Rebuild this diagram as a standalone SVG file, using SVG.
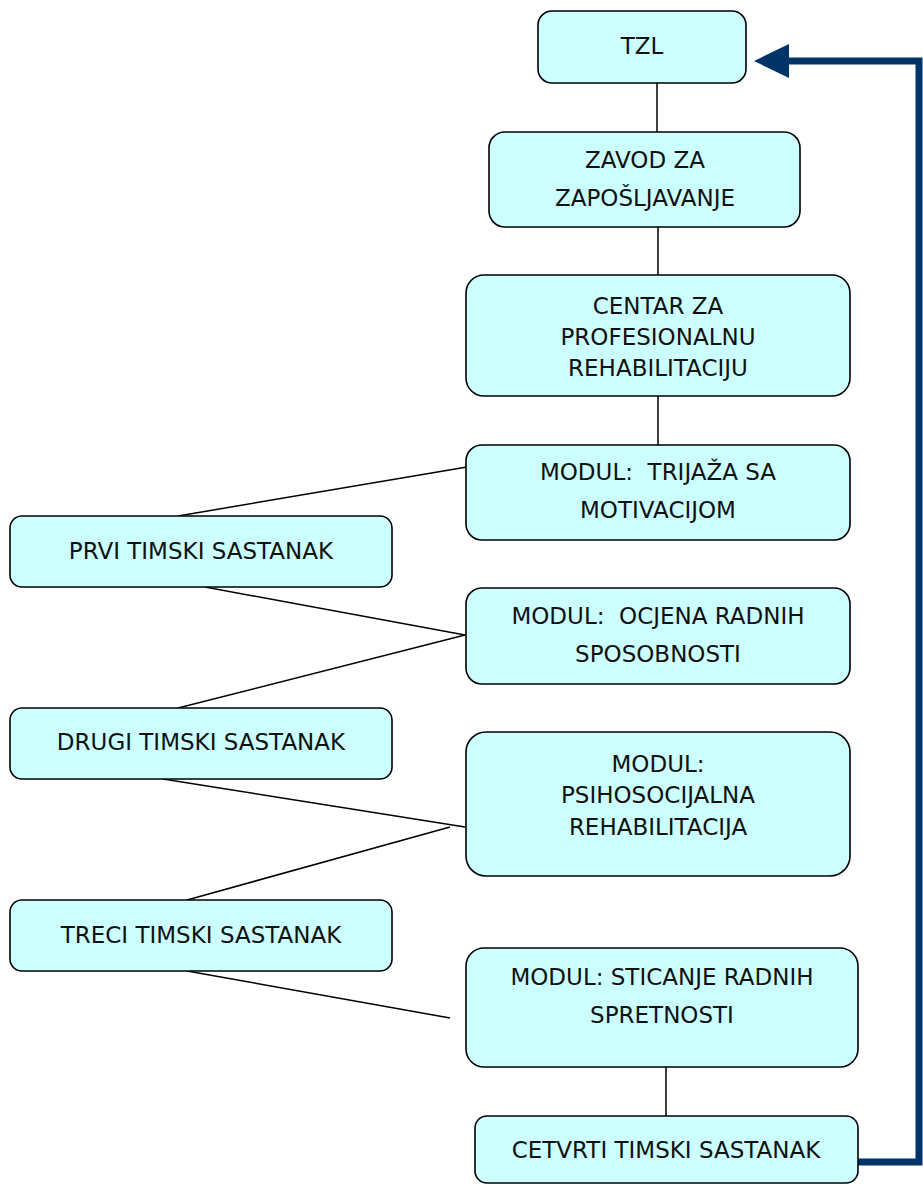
<svg xmlns="http://www.w3.org/2000/svg" width="923" height="1184" viewBox="0 0 923 1184">
  <style>
    .box { fill: #CCFFFF; stroke: #000; stroke-width: 1.6; }
    .lbl { font-family: "DejaVu Sans", "Liberation Sans", sans-serif; font-size: 23px; fill: #111; text-anchor: middle; white-space: pre; }
    .link { stroke: #000; stroke-width: 1.5; fill: none; }
    .loop { stroke: #003366; stroke-width: 7; fill: none; }
  </style>
  <defs>
    <!-- base of the head sits on the path end, tip points onward -->
    <marker id="head" markerUnits="userSpaceOnUse" markerWidth="36" markerHeight="36" refX="0" refY="17" orient="auto" overflow="visible">
      <path d="M0,0 L35,17 L0,34 Z" fill="#003366"/>
    </marker>
  </defs>

  <g id="connectors">
    <line class="link" x1="657" y1="83" x2="657" y2="132"/>
    <line class="link" x1="658" y1="227" x2="658" y2="275"/>
    <line class="link" x1="658" y1="396" x2="658" y2="445"/>
    <line class="link" x1="178" y1="516" x2="467" y2="467"/>
    <line class="link" x1="205" y1="587" x2="465" y2="635"/>
    <line class="link" x1="178" y1="708" x2="465" y2="635"/>
    <line class="link" x1="163" y1="779" x2="465" y2="827"/>
    <line class="link" x1="187" y1="900" x2="450" y2="827"/>
    <line class="link" x1="187" y1="971" x2="450" y2="1018"/>
    <line class="link" x1="666" y1="1067" x2="666" y2="1116"/>
    <!-- return loop from the last meeting back to the top -->
    <path class="loop" d="M858,1162 H919 V61 H789" marker-end="url(#head)"/>
  </g>

  <g id="tzl">
    <rect class="box" x="538" y="11" width="208" height="72" rx="14"/>
    <text class="lbl" x="642" y="54">TZL</text>
  </g>
  <g id="zavod">
    <rect class="box" x="489" y="132" width="311" height="95" rx="16"/>
    <text class="lbl" x="645" y="168">ZAVOD ZA</text>
    <text class="lbl" x="645" y="206">ZAPOŠLJAVANJE</text>
  </g>
  <g id="centar">
    <rect class="box" x="466" y="275" width="384" height="121" rx="18"/>
    <text class="lbl" x="658" y="314">CENTAR ZA</text>
    <text class="lbl" x="658" y="345">PROFESIONALNU</text>
    <text class="lbl" x="658" y="376">REHABILITACIJU</text>
  </g>
  <g id="modul-trijaza">
    <rect class="box" x="466" y="445" width="384" height="95" rx="16"/>
    <text class="lbl" x="658" y="480">MODUL:  TRIJAŽA SA</text>
    <text class="lbl" x="658" y="518">MOTIVACIJOM</text>
  </g>
  <g id="prvi">
    <rect class="box" x="10" y="516" width="382" height="71" rx="12"/>
    <text class="lbl" x="201" y="559">PRVI TIMSKI SASTANAK</text>
  </g>
  <g id="modul-ocjena">
    <rect class="box" x="466" y="588" width="384" height="96" rx="16"/>
    <text class="lbl" x="658" y="624">MODUL:  OCJENA RADNIH</text>
    <text class="lbl" x="658" y="662">SPOSOBNOSTI</text>
  </g>
  <g id="drugi">
    <rect class="box" x="10" y="708" width="382" height="71" rx="12"/>
    <text class="lbl" x="201" y="750">DRUGI TIMSKI SASTANAK</text>
  </g>
  <g id="modul-psiho">
    <rect class="box" x="466" y="732" width="384" height="144" rx="20"/>
    <text class="lbl" x="658" y="772">MODUL:</text>
    <text class="lbl" x="658" y="803">PSIHOSOCIJALNA</text>
    <text class="lbl" x="658" y="835">REHABILITACIJA</text>
  </g>
  <g id="treci">
    <rect class="box" x="10" y="900" width="382" height="71" rx="12"/>
    <text class="lbl" x="201" y="943">TRECI TIMSKI SASTANAK</text>
  </g>
  <g id="modul-sticanje">
    <rect class="box" x="466" y="948" width="392" height="119" rx="18"/>
    <text class="lbl" x="662" y="985">MODUL: STICANJE RADNIH</text>
    <text class="lbl" x="662" y="1023">SPRETNOSTI</text>
  </g>
  <g id="cetvrti">
    <rect class="box" x="475" y="1116" width="383" height="67" rx="12"/>
    <text class="lbl" x="666" y="1158">CETVRTI TIMSKI SASTANAK</text>
  </g>
</svg>
